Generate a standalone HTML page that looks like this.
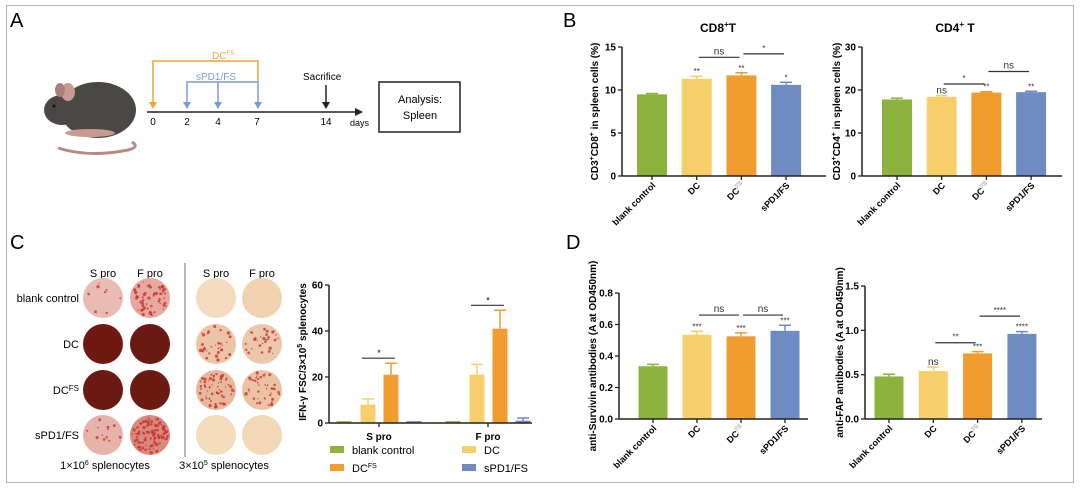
<!DOCTYPE html>
<html><head><meta charset="utf-8"><style>
body{margin:0;background:#fff}
svg{display:block;font-family:"Liberation Sans",Arial,sans-serif}
</style></head><body>
<svg id="fig" width="1080" height="497" viewBox="0 0 1080 497" xmlns="http://www.w3.org/2000/svg">
<rect x="6.5" y="5.5" width="1067" height="477" fill="#fff" stroke="#b5b5b5"/>
<text x="10" y="27" font-size="20">A</text>
<text x="563" y="27" font-size="20">B</text>
<text x="10" y="249" font-size="20">C</text>
<text x="566" y="249" font-size="20">D</text>

<!-- Panel A: mouse + timeline -->
<g>
 <path d="M58 148 Q90 158 128 150 Q140 147 132 142" fill="none" stroke="#b98a84" stroke-width="3"/>
 <ellipse cx="98" cy="110" rx="38" ry="28" fill="#4a4845"/>
 <ellipse cx="62" cy="110" rx="18" ry="15" fill="#4a4845"/>
 <ellipse cx="68" cy="92" rx="7" ry="9" fill="#c79b92"/>
 <ellipse cx="60" cy="90" rx="5" ry="7" fill="#a77f78"/>
 <ellipse cx="90" cy="133" rx="25" ry="4" fill="#c79b92"/>
 <circle cx="54" cy="106" r="1.5" fill="#111"/>
</g>
<g font-size="10">
 <line x1="147" y1="112" x2="355" y2="112" stroke="#222" stroke-width="1.5"/>
 <polygon points="355,108 363,112 355,116" fill="#222"/>
 <text x="153" y="125" text-anchor="middle">0</text>
 <text x="187" y="125" text-anchor="middle">2</text>
 <text x="218" y="125" text-anchor="middle">4</text>
 <text x="257" y="125" text-anchor="middle">7</text>
 <text x="326" y="125" text-anchor="middle">14</text>
 <text x="350" y="126" font-size="9">days</text>
 <path d="M153 108 V61 H258 V82" fill="none" stroke="#f0a43a" stroke-width="1.5"/>
 <polygon points="149,102 157,102 153,109" fill="#f0a43a"/>
 <text x="212" y="59" fill="#f0a43a" font-size="10">DC<tspan font-size="6" dy="-4">FS</tspan></text>
 <path d="M187 108 V82 H258 V108 M218 82 V108" fill="none" stroke="#7e9bd1" stroke-width="1.5"/>
 <polygon points="183,102 191,102 187,109" fill="#7e9bd1"/>
 <polygon points="214,102 222,102 218,109" fill="#7e9bd1"/>
 <polygon points="254,102 262,102 258,109" fill="#7e9bd1"/>
 <text x="196" y="80" fill="#7e9bd1" font-size="10">sPD1/FS</text>
 <text x="303" y="80" font-size="10">Sacrifice</text>
 <line x1="326" y1="85" x2="326" y2="104" stroke="#222" stroke-width="1.5"/>
 <polygon points="322,102 330,102 326,109" fill="#222"/>
 <rect x="379" y="82" width="81" height="50" fill="#fff" stroke="#222" stroke-width="1.5"/>
 <text x="420" y="103" text-anchor="middle" font-size="11">Analysis:</text>
 <text x="420" y="119" text-anchor="middle" font-size="11">Spleen</text>
</g>

<!-- Panel C: ELISpot plates -->
<g id="plates" font-size="11">
 <text x="103" y="277" text-anchor="middle">S pro</text>
 <text x="150" y="277" text-anchor="middle">F pro</text>
 <text x="216" y="277" text-anchor="middle">S pro</text>
 <text x="262" y="277" text-anchor="middle">F pro</text>
 <text x="79" y="302" text-anchor="end">blank control</text>
 <text x="79" y="348" text-anchor="end">DC</text>
 <text x="79" y="394" text-anchor="end">DC<tspan font-size="8" dy="-3">FS</tspan></text>
 <text x="79" y="439" text-anchor="end">sPD1/FS</text>
 <line x1="185" y1="263" x2="185" y2="457" stroke="#888" stroke-width="1.2"/>
 <text x="105" y="469" text-anchor="middle">1×10<tspan font-size="7" dy="-4">6</tspan><tspan dy="4"> splenocytes</tspan></text>
 <text x="224" y="469" text-anchor="middle">3×10<tspan font-size="7" dy="-4">5</tspan><tspan dy="4"> splenocytes</tspan></text>
</g>
</svg>
<script>
const NS="http://www.w3.org/2000/svg";
const svg=document.getElementById('fig');
function el(tag,attrs,parent){const e=document.createElementNS(NS,tag);for(const k in attrs)e.setAttribute(k,attrs[k]);(parent||svg).appendChild(e);return e;}

// ---- data ----
const categories=["blank control","DC","DC^FS","sPD1/FS"];
const colors=["#8db33f","#f7cf6a","#f19c2e","#6f8cc2"];
const cd8Values=[9.5,11.3,11.7,10.6];
const cd8Errors=[0.1,0.3,0.3,0.3];
const cd8Stars=["","**","**","*"];
const cd8Ticks=[0,5,10,15];
const cd4Values=[17.8,18.4,19.4,19.5];
const cd4Errors=[0.3,0.3,0.2,0.2];
const cd4Stars=["","ns","**","**"];
const cd4Ticks=[0,10,20,30];
const survValues=[0.335,0.535,0.525,0.56];
const survErrors=[0.012,0.022,0.022,0.035];
const survStars=["","***","***","***"];
const survTicks=[0,0.2,0.4,0.6,0.8];
const fapValues=[0.48,0.54,0.74,0.96];
const fapErrors=[0.025,0.045,0.02,0.025];
const fapStars=["","ns","***","****"];
const fapTicks=[0,0.5,1.0,1.5];
const groups=["S pro","F pro"];
const ifnValues=[[0.8,8,21,0.8],[0.8,21,41,1]];
const ifnErrors=[[0,2.5,5,0],[0,4.5,8,1.2]];
const ifnTicks=[0,20,40,60];

function catLabel(g,x,y,txt,size){
  const t=el('text',{x:x,y:y,'text-anchor':'end','font-size':size,'font-weight':'bold',transform:`rotate(-45 ${x} ${y})`},g);
  
  
  if(txt==="DC^FS"){t.textContent="DC";const s=el('tspan',{'font-size':size-3,dy:-4,fill:'#fff',stroke:'#999','stroke-width':0.3},t);s.textContent="FS";}
  else t.textContent=txt;
}

function barChart(o){
  const g=el('g',{});
  
  
  const max=o.ticks[o.ticks.length-1];
  const ys=v=>o.y0-(v/max)*(o.y0-o.y1);
  const xs=i=>o.first+i*o.step;
  // bars
  o.values.forEach((v,i)=>{
    const cx=xs(i);
    const b=el('rect',{x:cx-o.bw/2,y:ys(v),width:o.bw,height:o.y0-ys(v),fill:colors[i]},g);
    
    
    const e=ys(v+o.errors[i]);
    el('path',{d:`M${cx} ${ys(v)} V${e} M${cx-6} ${e} H${cx+6}`,stroke:colors[i],'stroke-width':1.5,fill:'none'},g);
    if(o.stars[i]){const t=el('text',{x:cx,y:e-2,'text-anchor':'middle','font-size':o.stars[i]==='ns'?10:8,fill:'#333'},g);t.textContent=o.stars[i];}
    el('line',{x1:cx,y1:o.y0,x2:cx,y2:o.y0+4,stroke:'#222','stroke-width':1.3},g);
    catLabel(g,cx+4,o.y0+10,categories[i],9);
  });
  // axes
  el('line',{x1:o.x,y1:o.y1,x2:o.x,y2:o.y0,stroke:'#222','stroke-width':1.5},g);
  el('line',{x1:o.x,y1:o.y0,x2:o.xend,y2:o.y0,stroke:'#222','stroke-width':1.5},g);
  o.ticks.forEach(t=>{
    el('line',{x1:o.x-4,y1:ys(t),x2:o.x,y2:ys(t),stroke:'#222','stroke-width':1.3},g);
    const tx=el('text',{x:o.x-6,y:ys(t)+3.5,'text-anchor':'end','font-size':10,'font-weight':'bold'},g);
    tx.textContent=o.fmt?o.fmt(t):t;
    
    
  });
  const yt=el('text',{x:o.ytx,y:(o.y0+o.y1)/2,'text-anchor':'middle','font-size':10,'font-weight':'bold',transform:`rotate(-90 ${o.ytx} ${(o.y0+o.y1)/2})`},g);
  yt.innerHTML=o.ytitle;
  
  
  if(o.title){const tt=el('text',{x:o.tx,y:32,'text-anchor':'middle','font-size':12,'font-weight':'bold'},g);tt.innerHTML=o.title;}
  (o.brackets||[]).forEach(b=>{
    const y=ys(b[2]);
    el('line',{x1:xs(b[0])+2,y1:y,x2:xs(b[1])-2,y2:y,stroke:'#333','stroke-width':1.2},g);
    const t=el('text',{x:(xs(b[0])+xs(b[1]))/2,y:y-3,'text-anchor':'middle','font-size':b[3]==='ns'?10:8,fill:'#333'},g);t.textContent=b[3];
    
    
  });
}
barChart({name:'cd8-chart',values:cd8Values,errors:cd8Errors,stars:cd8Stars,ticks:cd8Ticks,x:622,xend:826,y0:176,y1:47,first:652,step:44.7,bw:30,ytx:598,
  ytitle:'CD3<tspan font-size="7" dy="-4">+</tspan><tspan dy="4">CD8</tspan><tspan font-size="7" dy="-4">+</tspan><tspan dy="4"> in spleen cells (%)</tspan>',
  title:'CD8<tspan font-size="8" dy="-5">+</tspan><tspan dy="5">T</tspan>',tx:718,brackets:[[1,2,13.8,'ns'],[2,3,14.2,'*']]});
barChart({name:'cd4-chart',values:cd4Values,errors:cd4Errors,stars:cd4Stars,ticks:cd4Ticks,x:862,xend:1062,y0:176,y1:47,first:897,step:44.7,bw:30,ytx:840,
  ytitle:'CD3<tspan font-size="7" dy="-4">+</tspan><tspan dy="4">CD4</tspan><tspan font-size="7" dy="-4">+</tspan><tspan dy="4"> in spleen cells (%)</tspan>',
  title:'CD4<tspan font-size="8" dy="-5">+</tspan><tspan dy="5"> T</tspan>',tx:955,brackets:[[1,2,21.4,'*'],[2,3,24.3,'ns']]});
barChart({name:'survivin-chart',values:survValues,errors:survErrors,stars:survStars,ticks:survTicks,x:619,xend:808,y0:419,y1:293,first:653,step:44,bw:29,ytx:596,
  ytitle:'anti-Survivin antibodies (A at OD450nm)',fmt:t=>t.toFixed(1),brackets:[[1,2,0.66,'ns'],[2,3,0.66,'ns']]});
barChart({name:'fap-chart',values:fapValues,errors:fapErrors,stars:fapStars,ticks:fapTicks,x:865,xend:1042,y0:419,y1:286,first:889,step:44.3,bw:29,ytx:843,
  ytitle:'anti-FAP antibodies (A at OD450nm)',fmt:t=>t.toFixed(1),brackets:[[1,2,0.86,'**'],[2,3,1.16,'****']]});

// ---- Panel C grouped bar chart ----
(function(){
  const g=el('g',{});
  
  
  const X=329,Y0=423,Y1=285,max=ifnTicks[ifnTicks.length-1];
  const ys=v=>Y0-(v/max)*(Y0-Y1);
  const gc=[379,488], off=[-35,-11,12,35], bw=15;
  ifnValues.forEach((vals,gi)=>{
    vals.forEach((v,i)=>{
      const cx=gc[gi]+off[i];
      const r=el('rect',{x:cx-bw/2,y:ys(v),width:bw,height:Y0-ys(v),fill:colors[i]},g);
      
      
      if(ifnErrors[gi][i]>0){const e=ys(v+ifnErrors[gi][i]);el('path',{d:`M${cx} ${ys(v)} V${e} M${cx-6} ${e} H${cx+6}`,stroke:colors[i],'stroke-width':1.5,fill:'none'},g);}
    });
    const yb=ys(Math.max(...ifnValues[gi].map((v,i)=>v+ifnErrors[gi][i])))-5;
    el('line',{x1:gc[gi]+off[1]-6,y1:yb,x2:gc[gi]+off[2]+4,y2:yb,stroke:'#333','stroke-width':1.2},g);
    const st=el('text',{x:gc[gi],y:yb-2,'text-anchor':'middle','font-size':9},g);st.textContent='*';
    el('line',{x1:gc[gi],y1:Y0,x2:gc[gi],y2:Y0+4,stroke:'#222','stroke-width':1.3},g);
    const gl=el('text',{x:gc[gi],y:Y0+17,'text-anchor':'middle','font-size':10,'font-weight':'bold'},g);
    gl.textContent=groups[gi];
    
    
  });
  el('line',{x1:X,y1:Y1,x2:X,y2:Y0,stroke:'#222','stroke-width':1.5},g);
  el('line',{x1:X,y1:Y0,x2:532,y2:Y0,stroke:'#222','stroke-width':1.5},g);
  ifnTicks.forEach(t=>{
    el('line',{x1:X-4,y1:ys(t),x2:X,y2:ys(t),stroke:'#222','stroke-width':1.3},g);
    const tx=el('text',{x:X-6,y:ys(t)+3.5,'text-anchor':'end','font-size':10,'font-weight':'bold'},g);tx.textContent=t;
    
    
  });
  const yt=el('text',{x:306,y:352,'text-anchor':'middle','font-size':10,'font-weight':'bold',transform:'rotate(-90 306 352)'},g);
  yt.innerHTML='IFN-γ FSC/3×10<tspan font-size="7" dy="-4">5</tspan><tspan dy="4"> splenocytes</tspan>';
  
  
  const leg=[[0,330,452,'blank control'],[1,462,452,'DC'],[2,330,470,'DC'],[3,462,470,'sPD1/FS']];
  leg.forEach(l=>{
    const lg=el('g',{},g);
    
    
    el('rect',{x:l[1],y:l[2]-6,width:14,height:7,fill:colors[l[0]]},lg);
    const t=el('text',{x:l[1]+22,y:l[2]+2,'font-size':11},lg);
    t.innerHTML=l[3]+(l[0]===2?'<tspan font-size="7" dy="-4">FS</tspan>':'');
  });
})();

// ---- Panel C plates (illustration) ----
(function(){
  const g=document.getElementById('plates');
  const cx=[103,150,216,262], cy=[298,344,390,435];
  const base=[["#e9bbb3","#e6a9a0","#f5dcc0","#f0d2b0"],["#6e1a12","#6a1a12","#ecc4a8","#ebc7ab"],["#6a1a12","#6c1b12","#e8b89c","#eac3a6"],["#e6b2aa","#d98a80","#f5dcbc","#f3d8b8"]];
  const dens=[[8,60,0,0],[0,0,30,30],[0,0,60,40],[12,110,0,0]];
  let seed=7;const rnd=()=>{seed=(seed*16807)%2147483647;return seed/2147483647;};
  for(let r=0;r<4;r++)for(let c=0;c<4;c++){
    const p=el('circle',{cx:cx[c],cy:cy[r],r:20,fill:base[r][c]},g);
    
    
    for(let k=0;k<dens[r][c];k++){const a=rnd()*6.283,d=Math.sqrt(rnd())*18;
      el('circle',{cx:cx[c]+Math.cos(a)*d,cy:cy[r]+Math.sin(a)*d,r:0.6+rnd()*1.1,fill:'#c8322a',opacity:0.8},g);}
  }
})();
</script>
</body></html>
